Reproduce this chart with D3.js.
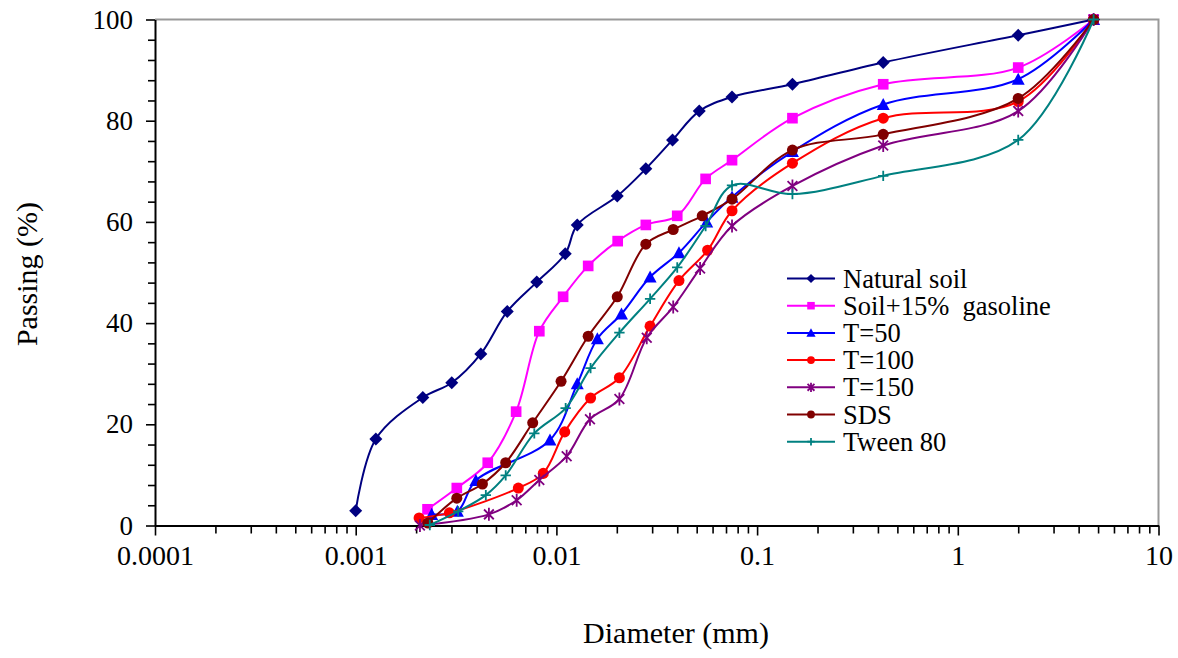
<!DOCTYPE html>
<html>
<head>
<meta charset="utf-8">
<script src="https://cdn.jsdelivr.net/npm/d3@7"></script>
<style>
  html, body { margin: 0; padding: 0; background: #fff; }
  svg { display: block; }
  svg text { font-family: "Liberation Serif", "Times New Roman", Tinos, "DejaVu Serif", "Noto Serif", Times, serif !important; fill: #000; }
</style>
</head>
<body>
<svg id="chart" width="1178" height="658" font-family="Liberation Serif, Times New Roman, DejaVu Serif, serif"></svg>
<script>
// Particle size distribution: diameter (mm) vs percent passing
const seriesNames = ["Natural soil", "Soil+15%  gasoline", "T=50", "T=100", "T=150", "SDS", "Tween 80"];
const seriesColors = ["#000080", "#FF00FF", "#0000FF", "#FF0000", "#800080", "#800000", "#008080"];
const seriesMarkers = ["diamond", "square", "triangle", "circle", "asterisk", "circle", "plus"];

const naturalSoilD = [0.001, 0.00126, 0.00216, 0.00301, 0.0042, 0.00569, 0.00798, 0.01107, 0.0127, 0.0201, 0.0279, 0.0379, 0.0515, 0.075, 0.15, 0.425, 2, 4.75];
const naturalSoilP = [2.9, 17.1, 25.3, 28.2, 33.9, 42.3, 48.1, 53.7, 59.4, 65.1, 70.5, 76.2, 81.9, 84.7, 87.2, 91.5, 96.9, 100];

const gasolineD = [0.00228, 0.00319, 0.00455, 0.0063, 0.00822, 0.0108, 0.0144, 0.0202, 0.0279, 0.040, 0.0554, 0.075, 0.15, 0.425, 2, 4.75];
const gasolineP = [3.2, 7.4, 12.4, 22.5, 38.4, 45.2, 51.3, 56.2, 59.4, 61.2, 68.5, 72.2, 80.5, 87.2, 90.5, 100];

const t50D = [0.00239, 0.00321, 0.00397, 0.00929, 0.0127, 0.016, 0.0211, 0.0293, 0.0408, 0.0561, 0.075, 0.15, 0.425, 2, 4.75];
const t50P = [2.2, 2.8, 8.9, 16.9, 28.0, 36.9, 41.8, 49.1, 53.9, 60.0, 64.9, 73.9, 83.2, 88.2, 100];

const t100D = [0.00207, 0.00293, 0.00646, 0.0086, 0.0110, 0.0148, 0.0206, 0.0293, 0.0408, 0.0567, 0.075, 0.15, 0.425, 2, 4.75];
const t100P = [1.5, 2.5, 7.4, 10.3, 18.5, 25.2, 29.2, 39.4, 48.4, 54.4, 62.2, 71.6, 80.5, 83.8, 100];

const t150D = [0.00209, 0.00461, 0.00634, 0.00822, 0.01125, 0.0147, 0.0206, 0.0282, 0.0382, 0.052, 0.075, 0.15, 0.425, 2, 4.75];
const t150P = [0, 2.2, 5.0, 9.0, 13.7, 21.0, 25.0, 37.1, 43.2, 50.8, 59.2, 67.1, 75.1, 81.9, 100];

const sdsD = [0.00229, 0.00319, 0.00428, 0.00559, 0.00762, 0.01055, 0.0144, 0.0201, 0.0279, 0.0382, 0.0533, 0.075, 0.15, 0.425, 2, 4.75];
const sdsP = [0.5, 5.4, 8.2, 12.4, 20.3, 28.5, 37.4, 45.2, 55.6, 58.5, 61.2, 64.5, 74.2, 77.3, 84.4, 100];

const tweenD = [0.00234, 0.00324, 0.00445, 0.00559, 0.00776, 0.01112, 0.0148, 0.0206, 0.0293, 0.040, 0.0554, 0.075, 0.15, 0.425, 2, 4.75];
const tweenP = [0.1, 2.8, 6.0, 9.9, 18.2, 23.2, 31.1, 38.1, 44.8, 51.0, 59.2, 67.2, 65.5, 69.1, 76.2, 100];

const xTickValues = [0.0001, 0.001, 0.01, 0.1, 1, 10];
const xTickLabels = ["0.0001", "0.001", "0.01", "0.1", "1", "10"];
const yTickValues = [0, 20, 40, 60, 80, 100];
const yTickLabels = ["0", "20", "40", "60", "80", "100"];

const allD = [naturalSoilD, gasolineD, t50D, t100D, t150D, sdsD, tweenD];
const allP = [naturalSoilP, gasolineP, t50P, t100P, t150P, sdsP, tweenP];

const series = seriesNames.map((name, i) => ({
  name, color: seriesColors[i], marker: seriesMarkers[i],
  points: allD[i].map((d, j) => ({ d, p: allP[i][j] }))
}));

const FONT = "Liberation Serif, Times New Roman, DejaVu Serif, serif";
const svg = d3.select("#chart");
const plot = { left: 155, right: 1158.5, top: 19.5, bottom: 525.5 };

const x = d3.scaleLog().domain([0.0001, 10]).range([plot.left, plot.right]);
const y = d3.scaleLinear().domain([0, 100]).range([plot.bottom, plot.top]);

svg.append("rect").attr("width", 1178).attr("height", 658).attr("fill", "#fff");

// grey frame on the top and right of the plot area
svg.append("path")
  .attr("d", `M${plot.left},${plot.top}H${plot.right}V${plot.bottom}`)
  .attr("fill", "none").attr("stroke", "#999").attr("stroke-width", 2);

// minor x ticks (2..9 within each decade)
const xMinor = [];
for (let e = -4; e < 1; e++) for (let m = 2; m <= 9; m++) xMinor.push(m * Math.pow(10, e));

const xMinorAxis = d3.axisBottom(x).tickValues(xMinor).tickSize(8).tickFormat("");
svg.append("g").attr("transform", `translate(0,${plot.bottom})`).call(xMinorAxis)
  .call(g => g.select(".domain").remove())
  .call(g => g.selectAll("line").attr("stroke", "#000").attr("stroke-width", 1.6));

const xAxis = d3.axisBottom(x).tickValues(xTickValues).tickSize(10).tickSizeOuter(0)
  .tickPadding(10).tickFormat((d, i) => xTickLabels[i]);
svg.append("g").attr("transform", `translate(0,${plot.bottom})`).call(xAxis)
  .attr("font-family", FONT)
  .call(g => g.select(".domain").attr("stroke", "#000").attr("stroke-width", 2))
  .call(g => g.selectAll("line").attr("stroke", "#000").attr("stroke-width", 1.6))
  .call(g => g.selectAll("text").attr("font-size", 28).attr("fill", "#000"));

// minor y ticks every 4 %
const yMinor = d3.range(0, 101, 4).filter(v => v % 20 !== 0);
const yMinorAxis = d3.axisLeft(y).tickValues(yMinor).tickSize(7).tickFormat("");
svg.append("g").attr("transform", `translate(${plot.left},0)`).call(yMinorAxis)
  .call(g => g.select(".domain").remove())
  .call(g => g.selectAll("line").attr("stroke", "#000").attr("stroke-width", 1.6));

const yAxis = d3.axisLeft(y).tickValues(yTickValues).tickSize(9).tickSizeOuter(0)
  .tickPadding(13).tickFormat((d, i) => yTickLabels[i]);
svg.append("g").attr("transform", `translate(${plot.left},0)`).call(yAxis)
  .attr("font-family", FONT)
  .call(g => g.select(".domain").attr("stroke", "#000").attr("stroke-width", 2))
  .call(g => g.selectAll("line").attr("stroke", "#000").attr("stroke-width", 1.6))
  .call(g => g.selectAll("text").attr("font-size", 27).attr("fill", "#000"));

// axis titles
svg.append("text").attr("x", 676).attr("y", 643).attr("text-anchor", "middle")
  .attr("font-size", 30).text("Diameter (mm)");
svg.append("text").attr("transform", "translate(37,274) rotate(-90)").attr("text-anchor", "middle")
  .attr("font-size", 30).text("Passing (%)");

// marker shapes
function drawMarker(g, type, color, s) {
  if (type === "diamond") {
    g.append("path").attr("d", `M0,${-s}L${s},0L0,${s}L${-s},0Z`).attr("fill", color);
  } else if (type === "square") {
    const h = s * 0.82;
    g.append("rect").attr("x", -h).attr("y", -h).attr("width", 2 * h).attr("height", 2 * h).attr("fill", color);
  } else if (type === "triangle") {
    g.append("path").attr("d", `M0,${-s}L${s},${s * 0.85}L${-s},${s * 0.85}Z`).attr("fill", color);
  } else if (type === "circle") {
    g.append("circle").attr("r", s * 0.85).attr("fill", color);
  } else if (type === "asterisk") {
    const a = s * 0.75;
    g.append("path").attr("d", `M${-a},${-a}L${a},${a}M${-a},${a}L${a},${-a}M0,${-s}L0,${s}`)
      .attr("stroke", color).attr("stroke-width", 1.8).attr("fill", "none");
  } else if (type === "plus") {
    const a = s * 0.8;
    g.append("path").attr("d", `M${-a},0L${a},0M0,${-a}L0,${a}`)
      .attr("stroke", color).attr("stroke-width", 1.8).attr("fill", "none");
  }
}

const line = d3.line().x(d => x(d.d)).y(d => y(d.p)).curve(d3.curveCatmullRom.alpha(0.5));

const seriesG = svg.append("g");
series.forEach(s => {
  const g = seriesG.append("g");
  g.append("path").datum(s.points).attr("d", line)
    .attr("fill", "none").attr("stroke", s.color).attr("stroke-width", 2);
  s.points.forEach(pt => {
    const m = g.append("g").attr("transform", `translate(${x(pt.d)},${y(pt.p)})`);
    drawMarker(m, s.marker, s.color, 6.5);
  });
});

// legend
const legend = svg.append("g");
series.forEach((s, i) => {
  const cy = 278.5 + i * 27.2;
  legend.append("line").attr("x1", 787).attr("x2", 835).attr("y1", cy).attr("y2", cy)
    .attr("stroke", s.color).attr("stroke-width", 2);
  const m = legend.append("g").attr("transform", `translate(811,${cy})`);
  drawMarker(m, s.marker, s.color, 4.6);
  legend.append("text").attr("x", 843).attr("y", cy + 9).attr("font-size", 26.5)
    .attr("xml:space", "preserve").style("white-space", "pre").text(s.name);
});
</script>
</body>
</html>
